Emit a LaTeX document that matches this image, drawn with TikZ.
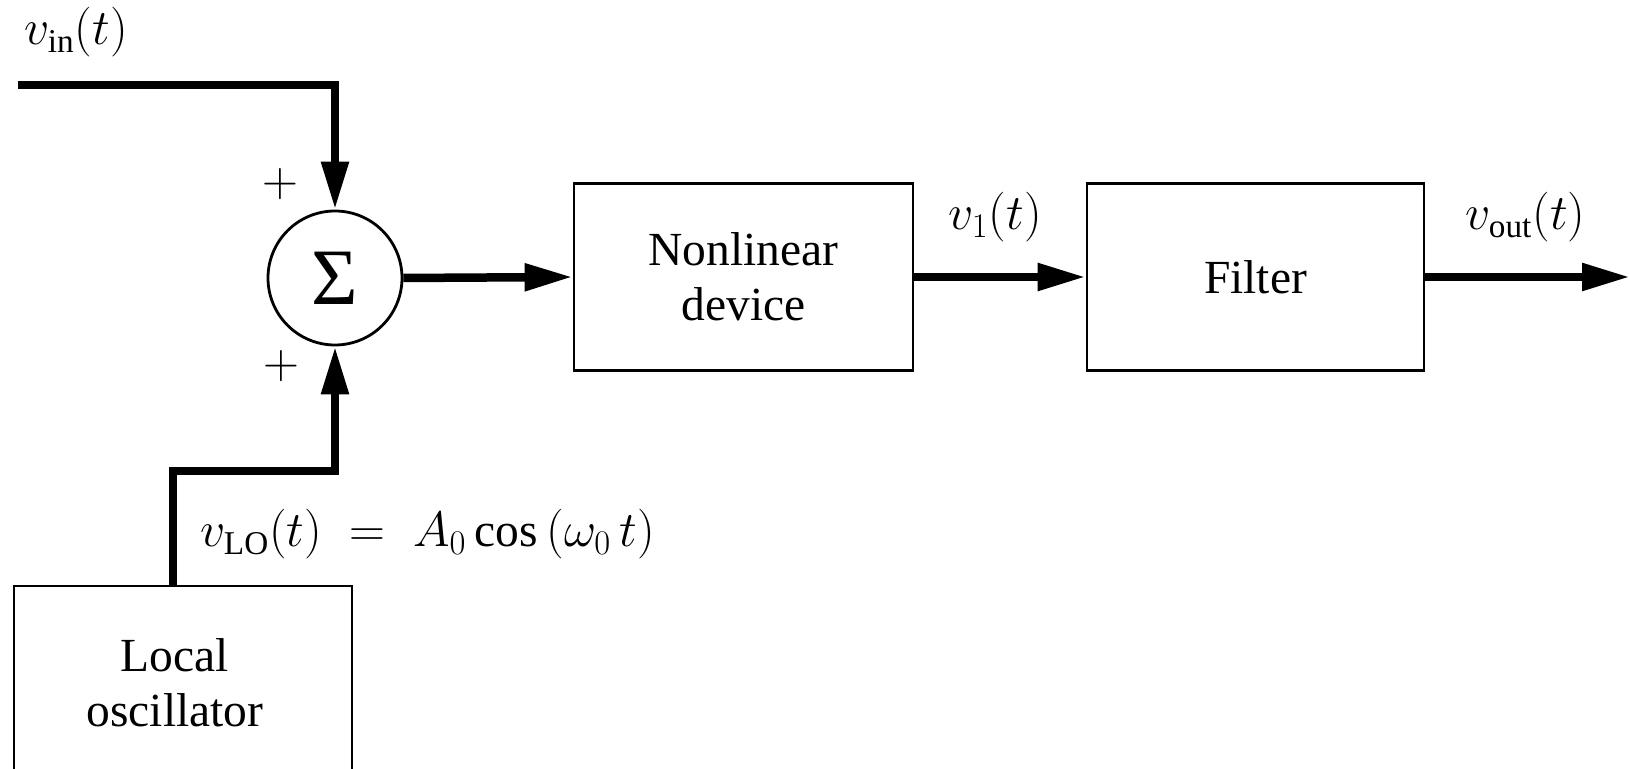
\documentclass[tikz,border=0pt]{standalone}
\usepackage{fontspec}
\setmainfont{Liberation Serif}
\usetikzlibrary{arrows.meta,calc}

\begin{document}
\begin{tikzpicture}[x=0.5pt,y=-0.5pt,
  every node/.style={font=\fontsize{23.75}{27.5}\selectfont, inner sep=0pt},
  block/.style={draw, line width=1.4pt, minimum width=169.5pt, minimum height=93.5pt, align=center},
  sumnode/.style={draw, circle, line width=1.4pt, minimum size=67pt, font=\fontsize{40}{40}\selectfont},
  conn/.style={line width=4.25pt, line join=miter, -{Triangle[length=24pt,width=13pt]}},
]
\useasboundingbox (0,0) rectangle (1630,769);
\clip (0,0) rectangle (1630,769);

% summing junction and processing blocks
\node[sumnode] (sum) at (335,278) {Σ};
\node[block] (nl) at (743.5,277) {Nonlinear\\device};
\node[block, minimum width=168.5pt] (filt) at (1255.5,277) {Filter};
\node[block, minimum width=169pt, minimum height=107pt] (lo) at (183,693) {};
\node[align=center] (lotxt) at (175,683) {Local\\oscillator};

% free ends and bends of the wires
\coordinate (in) at (18,85);
\coordinate (out) at (1630,277);
\coordinate (lotap) at (173,586);
\coordinate (bend) at (335,471);

% signal paths
\draw[conn] (in) -| (sum.north);
\draw[conn] (lotap) |- (bend) -- (sum.south);
\draw[conn] (sum.east) -- (nl.west);
\draw[conn] (nl.east) -- (filt.west);
\draw[conn] (filt.east) -- (out);

% signal labels
\node[anchor=base west] (vin) at (24,45) {$v_{\mathrm{in}}(t)$};
\node[anchor=base west] (v1) at (948,230) {$v_1(t)$};
\node[anchor=base west] (vout) at (1465,230) {$v_{\mathrm{out}}(t)$};
\node[anchor=base west] (vlo) at (200,547) {$v_{\mathrm{LO}}(t) \;=\; A_0\cos\,(\omega_0\,t)$};
\node (p1) at (280,184) {$+$};
\node (p2) at (281,366) {$+$};
\end{tikzpicture}
\end{document}
